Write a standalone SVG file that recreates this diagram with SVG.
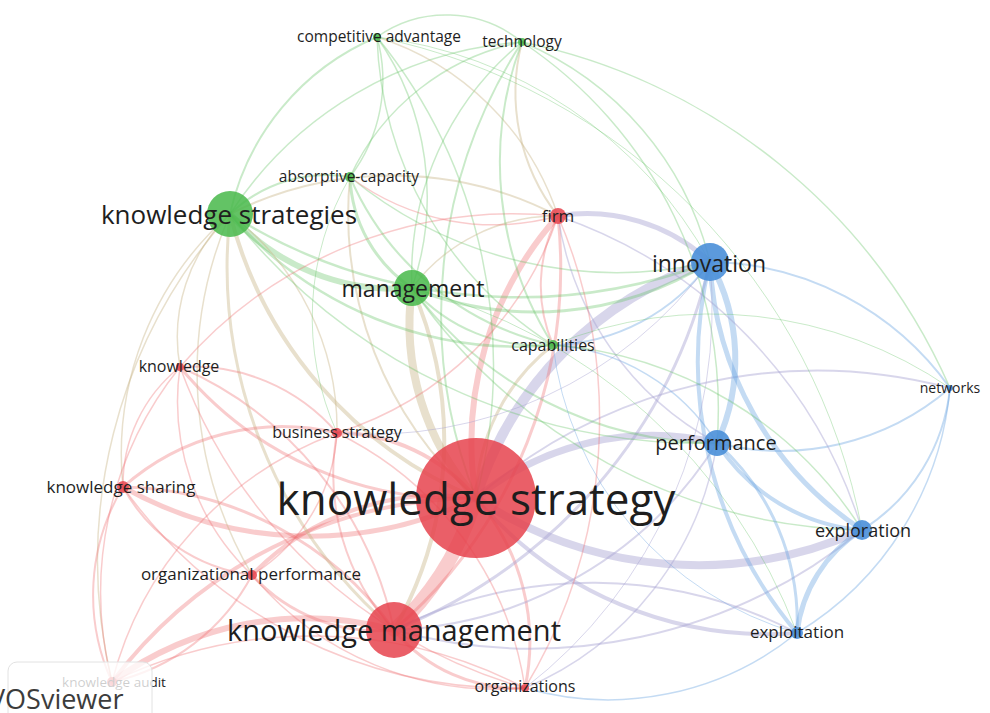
<svg xmlns="http://www.w3.org/2000/svg" width="990" height="713" viewBox="0 0 990 713">
<style>
  .e path { fill: none; stroke-linecap: round; }
  .r { stroke: #ec6a6c; stroke-opacity: .34; }
  .g { stroke: #62c062; stroke-opacity: .34; }
  .b { stroke: #6ca6e0; stroke-opacity: .40; }
  .p { stroke: #a8a4d2; stroke-opacity: .45; }
  .o { stroke: #c9b487; stroke-opacity: .42; }
  .lbl { font-family: "Open Sans", "Liberation Sans", sans-serif; fill: #1e1e1e; text-anchor: middle; }
  .nr { fill: #e6434d; fill-opacity: .85; }
  .ng { fill: #48b94a; fill-opacity: .85; }
  .nb { fill: #4a8fd8; fill-opacity: .9; }
</style>
<rect width="990" height="713" fill="#ffffff"/>

<!-- links -->
<g id="links" class="e">
  <!-- knowledge strategy -->
  <path class="r" stroke-width="14" d="M476,498 A300,300 0 0,1 394,630"/>
  <path class="o" stroke-width="8" d="M476,498 A260,260 0 0,1 412,288"/>
  <path class="o" stroke-width="4" d="M476,498 A420,420 0 0,1 230,214"/>
  <path class="p" stroke-width="10" d="M476,498 A360,360 0 0,1 710,262"/>
  <path class="p" stroke-width="7" d="M476,498 A280,280 0 0,1 717,443"/>
  <path class="p" stroke-width="8" d="M476,498 A400,400 0 0,0 862,530"/>
  <path class="p" stroke-width="4" d="M476,498 A380,380 0 0,0 797,633"/>
  <path class="r" stroke-width="6" d="M476,498 A340,340 0 0,1 558,216"/>
  <path class="o" stroke-width="3" d="M476,498 A200,200 0 0,1 553,345"/>
  <path class="r" stroke-width="4" d="M476,498 A180,180 0 0,0 337,433"/>
  <path class="r" stroke-width="5" d="M476,498 A380,380 0 0,1 123,487"/>
  <path class="r" stroke-width="4" d="M476,498 A260,260 0 0,0 252,575"/>
  <path class="r" stroke-width="3" d="M476,498 A220,220 0 0,1 525,688"/>
  <path class="r" stroke-width="3" d="M476,498 A360,360 0 0,1 180,367"/>
  <path class="r" stroke-width="4" d="M476,498 A460,460 0 0,0 112,682"/>
  <path class="p" stroke-width="2" d="M476,498 A520,520 0 0,1 950,388"/>
  <path class="o" stroke-width="2" d="M476,498 A380,380 0 0,1 350,177"/>
  <path class="g" stroke-width="1.5" d="M476,498 A520,520 0 0,0 377,37"/>
  <path class="g" stroke-width="2" d="M476,498 A500,500 0 0,1 522,42"/>
  <!-- knowledge management -->
  <path class="r" stroke-width="6" d="M394,630 A330,330 0 0,0 112,682"/>
  <path class="r" stroke-width="3" d="M394,630 A340,340 0 0,0 123,487"/>
  <path class="r" stroke-width="3" d="M394,630 A170,170 0 0,1 252,575"/>
  <path class="r" stroke-width="2" d="M394,630 A230,230 0 0,1 337,433"/>
  <path class="r" stroke-width="3" d="M394,630 A160,160 0 0,0 525,688"/>
  <path class="r" stroke-width="2" d="M394,630 A370,370 0 0,0 180,367"/>
  <path class="r" stroke-width="3" d="M394,630 A480,480 0 0,0 558,216"/>
  <path class="o" stroke-width="4" d="M394,630 A380,380 0 0,0 412,288"/>
  <path class="o" stroke-width="3" d="M394,630 A480,480 0 0,1 230,214"/>
  <path class="p" stroke-width="3" d="M394,630 A520,520 0 0,0 710,262"/>
  <path class="p" stroke-width="2" d="M394,630 A400,400 0 0,0 717,443"/>
  <path class="p" stroke-width="2" d="M394,630 A520,520 0 0,0 862,530"/>
  <path class="p" stroke-width="2" d="M394,630 A440,440 0 0,1 797,633"/>
  <!-- knowledge strategies -->
  <path class="g" stroke-width="6" d="M230,214 A220,220 0 0,0 412,288"/>
  <path class="g" stroke-width="2" d="M230,214 A140,140 0 0,1 350,177"/>
  <path class="g" stroke-width="2" d="M230,214 A250,250 0 0,1 377,37"/>
  <path class="g" stroke-width="1.5" d="M230,214 A380,380 0 0,1 522,42"/>
  <path class="g" stroke-width="2.5" d="M230,214 A380,380 0 0,0 553,345"/>
  <path class="g" stroke-width="2.5" d="M230,214 A540,540 0 0,0 710,262"/>
  <path class="o" stroke-width="2" d="M230,214 A360,360 0 0,1 558,216"/>
  <path class="o" stroke-width="1.5" d="M230,214 A170,170 0 0,0 180,367"/>
  <path class="o" stroke-width="1.5" d="M230,214 A270,270 0 0,1 337,433"/>
  <path class="o" stroke-width="1.5" d="M230,214 A320,320 0 0,0 123,487"/>
  <path class="o" stroke-width="1.5" d="M230,214 A400,400 0 0,0 252,575"/>
  <path class="g" stroke-width="1.5" d="M230,214 A600,600 0 0,0 717,443"/>
  <path class="o" stroke-width="1.5" d="M230,214 A520,520 0 0,0 112,682"/>
  <!-- management -->
  <path class="g" stroke-width="3" d="M412,288 A330,330 0 0,0 710,262"/>
  <path class="g" stroke-width="2" d="M412,288 A170,170 0 0,0 553,345"/>
  <path class="g" stroke-width="3" d="M412,288 A140,140 0 0,1 350,177"/>
  <path class="g" stroke-width="1.5" d="M412,288 A280,280 0 0,0 377,37"/>
  <path class="g" stroke-width="1.5" d="M412,288 A300,300 0 0,1 522,42"/>
  <path class="o" stroke-width="1.5" d="M412,288 A180,180 0 0,1 558,216"/>
  <path class="g" stroke-width="2" d="M412,288 A380,380 0 0,0 717,443"/>
  <path class="g" stroke-width="1.5" d="M412,288 A560,560 0 0,0 862,530"/>
  <path class="g" stroke-width="1" d="M412,288 A560,560 0 0,1 797,633"/>
  <!-- innovation -->
  <path class="b" stroke-width="6" d="M710,262 A200,200 0 0,1 717,443"/>
  <path class="b" stroke-width="5" d="M710,262 A340,340 0 0,0 862,530"/>
  <path class="b" stroke-width="4" d="M710,262 A420,420 0 0,0 797,633"/>
  <path class="b" stroke-width="2" d="M710,262 A300,300 0 0,1 950,388"/>
  <path class="p" stroke-width="5" d="M710,262 A180,180 0 0,0 558,216"/>
  <path class="b" stroke-width="2" d="M710,262 A200,200 0 0,1 553,345"/>
  <path class="g" stroke-width="1.5" d="M710,262 A320,320 0 0,0 522,42"/>
  <path class="g" stroke-width="1" d="M710,262 A440,440 0 0,0 377,37"/>
  <path class="g" stroke-width="1.5" d="M710,262 A420,420 0 0,1 350,177"/>
  <path class="p" stroke-width="1" d="M710,262 A420,420 0 0,1 337,433"/>
  <!-- performance / exploration / exploitation / networks -->
  <path class="b" stroke-width="4" d="M717,443 A190,190 0 0,0 862,530"/>
  <path class="b" stroke-width="3" d="M717,443 A240,240 0 0,1 797,633"/>
  <path class="b" stroke-width="2" d="M717,443 A260,260 0 0,0 950,388"/>
  <path class="b" stroke-width="1.5" d="M717,443 A210,210 0 0,0 553,345"/>
  <path class="p" stroke-width="1.5" d="M717,443 A310,310 0 0,1 558,216"/>
  <path class="b" stroke-width="5" d="M862,530 A140,140 0 0,0 797,633"/>
  <path class="b" stroke-width="2" d="M862,530 A190,190 0 0,0 950,388"/>
  <path class="b" stroke-width="1.5" d="M797,633 A320,320 0 0,0 950,388"/>
  <path class="b" stroke-width="1.5" d="M797,633 A300,300 0 0,1 525,688"/>
  <path class="b" stroke-width="1" d="M797,633 A340,340 0 0,1 553,345"/>
  <path class="g" stroke-width="1.5" d="M862,530 A400,400 0 0,0 553,345"/>
  <!-- firm -->
  <path class="r" stroke-width="2" d="M558,216 A150,150 0 0,0 553,345"/>
  <path class="o" stroke-width="2" d="M558,216 A200,200 0 0,1 522,42"/>
  <path class="o" stroke-width="1.5" d="M558,216 A280,280 0 0,0 377,37"/>
  <path class="r" stroke-width="1.5" d="M558,216 A240,240 0 0,1 350,177"/>
  <path class="p" stroke-width="1.5" d="M558,216 A480,480 0 0,1 862,530"/>
  <path class="r" stroke-width="1.5" d="M558,216 A440,440 0 0,0 180,367"/>
  <path class="r" stroke-width="1.5" d="M558,216 A340,340 0 0,1 337,433"/>
  <path class="r" stroke-width="1.5" d="M558,216 A520,520 0 0,1 525,688"/>
  <!-- competitive advantage / technology / absorptive-capacity -->
  <path class="g" stroke-width="1.5" d="M377,37 A160,160 0 0,1 350,177"/>
  <path class="g" stroke-width="1.5" d="M377,37 A120,120 0 0,1 522,42"/>
  <path class="g" stroke-width="1.5" d="M377,37 A380,380 0 0,0 553,345"/>
  <path class="g" stroke-width="1" d="M377,37 A620,620 0 0,1 862,530"/>
  <path class="g" stroke-width="2" d="M522,42 A340,340 0 0,0 553,345"/>
  <path class="g" stroke-width="1.5" d="M522,42 A240,240 0 0,0 350,177"/>
  <path class="g" stroke-width="1.5" d="M522,42 A600,600 0 0,1 950,388"/>
  <path class="g" stroke-width="1.5" d="M522,42 A440,440 0 0,1 717,443"/>
  <path class="g" stroke-width="2" d="M350,177 A290,290 0 0,0 553,345"/>
  <path class="g" stroke-width="1" d="M350,177 A280,280 0 0,0 337,433"/>
  <path class="g" stroke-width="1" d="M553,345 A420,420 0 0,1 950,388"/>
  <!-- knowledge / business strategy / knowledge sharing / organizational performance -->
  <path class="r" stroke-width="1.5" d="M180,367 A150,150 0 0,0 123,487"/>
  <path class="r" stroke-width="2" d="M180,367 A190,190 0 0,1 337,433"/>
  <path class="r" stroke-width="1.5" d="M180,367 A240,240 0 0,0 252,575"/>
  <path class="r" stroke-width="1.5" d="M180,367 A360,360 0 0,0 112,682"/>
  <path class="r" stroke-width="1.5" d="M180,367 A520,520 0 0,0 525,688"/>
  <path class="r" stroke-width="3" d="M337,433 A240,240 0 0,0 123,487"/>
  <path class="r" stroke-width="1.5" d="M337,433 A180,180 0 0,1 252,575"/>
  <path class="r" stroke-width="1.5" d="M337,433 A340,340 0 0,1 525,688"/>
  <path class="r" stroke-width="1.5" d="M337,433 A360,360 0 0,0 112,682"/>
  <path class="r" stroke-width="2" d="M123,487 A170,170 0 0,0 252,575"/>
  <path class="r" stroke-width="2" d="M123,487 A210,210 0 0,0 112,682"/>
  <path class="r" stroke-width="1.5" d="M123,487 A480,480 0 0,0 525,688"/>
  <path class="r" stroke-width="2" d="M252,575 A210,210 0 0,1 112,682"/>
  <path class="r" stroke-width="1.5" d="M252,575 A320,320 0 0,0 525,688"/>
  <path class="r" stroke-width="1.5" d="M525,688 A460,460 0 0,0 112,682"/>
  <path class="p" stroke-width="1.5" d="M525,688 A320,320 0 0,0 717,443"/>
  <path class="p" stroke-width="1" d="M525,688 A480,480 0 0,0 710,262"/>
</g>

<!-- terms -->
<g id="knowledge-strategy">
  <circle class="nr" cx="476" cy="498" r="60"/>
  <text class="lbl" x="476" y="515" font-size="44">knowledge strategy</text>
</g>
<g id="knowledge-management">
  <circle class="nr" cx="394" cy="630" r="28"/>
  <text class="lbl" x="394" y="641" font-size="29">knowledge management</text>
</g>
<g id="knowledge-strategies">
  <circle class="ng" cx="230" cy="214" r="23"/>
  <text class="lbl" x="229" y="224" font-size="26">knowledge strategies</text>
</g>
<g id="management">
  <circle class="ng" cx="412" cy="288" r="18"/>
  <text class="lbl" x="413" y="297" font-size="23">management</text>
</g>
<g id="innovation">
  <circle class="nb" cx="710" cy="262" r="19"/>
  <text class="lbl" x="709" y="272" font-size="23">innovation</text>
</g>
<g id="performance">
  <circle class="nb" cx="717" cy="443" r="13"/>
  <text class="lbl" x="716" y="450" font-size="20">performance</text>
</g>
<g id="exploration">
  <circle class="nb" cx="862" cy="530" r="10"/>
  <text class="lbl" x="863" y="537" font-size="18">exploration</text>
</g>
<g id="exploitation">
  <circle class="nb" cx="797" cy="633" r="6"/>
  <text class="lbl" x="797" y="638" font-size="17">exploitation</text>
</g>
<g id="networks">
  <circle class="nb" cx="950" cy="388" r="3"/>
  <text class="lbl" x="950" y="393" font-size="14">networks</text>
</g>
<g id="firm">
  <circle class="nr" cx="558" cy="216" r="8"/>
  <text class="lbl" x="558" y="222" font-size="17">firm</text>
</g>
<g id="capabilities">
  <circle class="ng" cx="553" cy="345" r="5"/>
  <text class="lbl" x="553" y="351" font-size="16">capabilities</text>
</g>
<g id="absorptive-capacity">
  <circle class="ng" cx="350" cy="177" r="5"/>
  <text class="lbl" x="349" y="182" font-size="15.5">absorptive-capacity</text>
</g>
<g id="competitive-advantage">
  <circle class="ng" cx="377" cy="37" r="4"/>
  <text class="lbl" x="379" y="42" font-size="15.5">competitive advantage</text>
</g>
<g id="technology">
  <circle class="ng" cx="522" cy="42" r="4"/>
  <text class="lbl" x="522" y="47" font-size="15.5">technology</text>
</g>
<g id="knowledge">
  <circle class="nr" cx="180" cy="367" r="4"/>
  <text class="lbl" x="179" y="372" font-size="16">knowledge</text>
</g>
<g id="business-strategy">
  <circle class="nr" cx="337" cy="433" r="5"/>
  <text class="lbl" x="337" y="438" font-size="16">business strategy</text>
</g>
<g id="knowledge-sharing">
  <circle class="nr" cx="123" cy="487" r="6"/>
  <text class="lbl" x="121" y="493" font-size="17">knowledge sharing</text>
</g>
<g id="organizational-performance">
  <circle class="nr" cx="252" cy="575" r="5"/>
  <text class="lbl" x="251" y="580" font-size="17">organizational performance</text>
</g>
<g id="organizations">
  <circle class="nr" cx="525" cy="688" r="4"/>
  <text class="lbl" x="525" y="692" font-size="16">organizations</text>
</g>
<g id="knowledge-audit">
  <circle class="nr" cx="112" cy="682" r="5"/>
  <text class="lbl" x="114" y="687" font-size="13.5">knowledge audit</text>
</g>

<!-- software logo -->
<g id="logo">
  <rect x="8" y="662" width="144" height="60" rx="9" fill="#ffffff" fill-opacity=".78" stroke="#e2e2e2"/>
  <text x="-11" y="709" font-family="'Open Sans', 'Liberation Sans', sans-serif" font-size="27" fill="#3c3c3c">VOSviewer</text>
</g>
</svg>
